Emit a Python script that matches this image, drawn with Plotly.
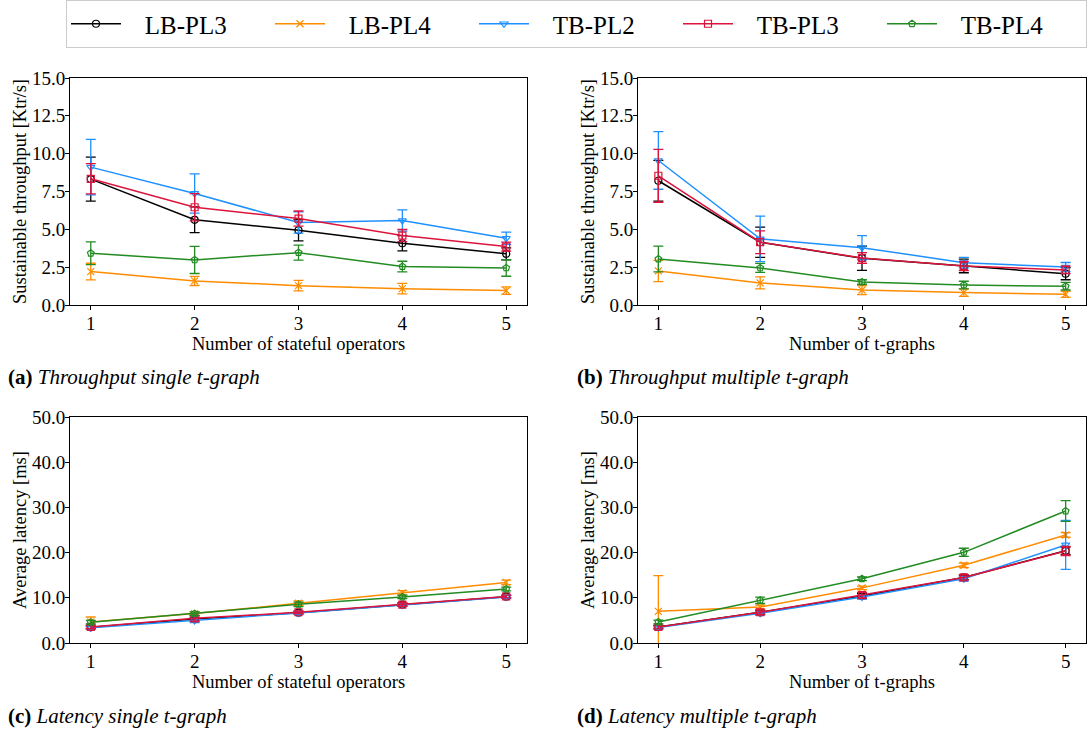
import plotly.graph_objects as go

x_vals = [1, 2, 3, 4, 5]
series = ["LB-PL3", "LB-PL4", "TB-PL2", "TB-PL3", "TB-PL4"]

# (a) Throughput single t-graph  [Ktr/s]
thr_single = {
    "LB-PL3": [8.32, 5.63, 4.94, 4.08, 3.38],
    "LB-PL4": [2.21, 1.59, 1.28, 1.08, 0.95],
    "TB-PL2": [9.11, 7.37, 5.45, 5.58, 4.41],
    "TB-PL3": [8.34, 6.46, 5.71, 4.59, 3.86],
    "TB-PL4": [3.42, 2.98, 3.46, 2.54, 2.45],
}
thr_single_err = {
    "LB-PL3": [1.45, 0.85, 0.70, 0.50, 0.40],
    "LB-PL4": [0.55, 0.30, 0.35, 0.35, 0.25],
    "TB-PL2": [1.83, 1.30, 0.70, 0.70, 0.40],
    "TB-PL3": [1.00, 0.90, 0.50, 0.40, 0.30],
    "TB-PL4": [0.75, 0.90, 0.50, 0.35, 0.55],
}
# (b) Throughput multiple t-graph  [Ktr/s]
thr_multi = {
    "LB-PL3": [8.21, 4.15, 3.09, 2.58, 2.07],
    "LB-PL4": [2.25, 1.46, 0.99, 0.82, 0.71],
    "TB-PL2": [9.55, 4.37, 3.79, 2.80, 2.51],
    "TB-PL3": [8.54, 4.15, 3.11, 2.58, 2.32],
    "TB-PL4": [3.04, 2.45, 1.52, 1.32, 1.24],
}
thr_multi_err = {
    "LB-PL3": [1.35, 1.00, 0.80, 0.45, 0.40],
    "LB-PL4": [0.70, 0.40, 0.30, 0.25, 0.20],
    "TB-PL2": [1.90, 1.50, 0.80, 0.35, 0.30],
    "TB-PL3": [1.75, 0.75, 0.35, 0.30, 0.25],
    "TB-PL4": [0.85, 0.30, 0.15, 0.25, 0.25],
}
# (c) Latency single t-graph  [ms]
lat_single = {
    "LB-PL3": [3.47, 5.30, 6.70, 8.50, 10.25],
    "LB-PL4": [4.65, 6.50, 8.80, 11.10, 13.40],
    "TB-PL2": [3.40, 5.00, 6.65, 8.40, 10.20],
    "TB-PL3": [3.55, 5.45, 6.80, 8.50, 10.30],
    "TB-PL4": [4.60, 6.50, 8.55, 10.20, 11.95],
}
lat_single_err = {
    "LB-PL3": [0.30, 0.40, 0.30, 0.30, 0.30],
    "LB-PL4": [1.10, 0.40, 0.50, 0.50, 0.50],
    "TB-PL2": [0.30, 0.50, 0.30, 0.30, 0.30],
    "TB-PL3": [0.40, 0.60, 0.30, 0.40, 0.30],
    "TB-PL4": [0.40, 0.40, 0.50, 0.40, 0.40],
}
# (d) Latency multiple t-graph  [ms]
lat_multi = {
    "LB-PL3": [3.54, 6.78, 10.40, 14.50, 20.40],
    "LB-PL4": [7.00, 7.96, 12.20, 17.20, 23.90],
    "TB-PL2": [3.40, 6.60, 10.20, 14.20, 21.70],
    "TB-PL3": [3.54, 6.80, 10.60, 14.50, 20.35],
    "TB-PL4": [4.65, 9.44, 14.20, 20.06, 29.20],
}
lat_multi_err = {
    "LB-PL3": [0.30, 0.40, 0.50, 0.50, 0.80],
    "LB-PL4": [7.90, 0.40, 0.40, 0.50, 0.50],
    "TB-PL2": [0.30, 0.40, 0.50, 0.50, 5.40],
    "TB-PL3": [0.40, 0.50, 0.60, 0.60, 1.00],
    "TB-PL4": [0.40, 0.70, 0.40, 0.90, 2.30],
}

colors = {
    "LB-PL3": "#000000",
    "LB-PL4": "#FF8C00",
    "TB-PL2": "#1E90FF",
    "TB-PL3": "#DC143C",
    "TB-PL4": "#228B22",
}
symbols = {
    "LB-PL3": "circle-open",
    "LB-PL4": "x-thin-open",
    "TB-PL2": "triangle-down-open",
    "TB-PL3": "square-open",
    "TB-PL4": "pentagon-open",
}

W, H = 1092, 733
FONT = "Liberation Serif"

panels = [
    (thr_single, thr_single_err, "x", "y", (70, 527), (78, 305),
     "Number of stateful operators", "Sustainable throughput [Ktr/s]", [0, 15], 2.5),
    (thr_multi, thr_multi_err, "x2", "y2", (638, 1086), (78, 305),
     "Number of t-graphs", "Sustainable throughput [Ktr/s]", [0, 15], 2.5),
    (lat_single, lat_single_err, "x3", "y3", (70, 527), (417, 643),
     "Number of stateful operators", "Average latency [ms]", [0, 50], 10),
    (lat_multi, lat_multi_err, "x4", "y4", (638, 1086), (417, 643),
     "Number of t-graphs", "Average latency [ms]", [0, 50], 10),
]

fig = go.Figure()
layout_axes = {}
for i, (data, err, xa, ya, xd, yd, xt, yt, yr, dt) in enumerate(panels):
    for s in series:
        fig.add_trace(go.Scatter(
            x=x_vals, y=data[s], name="\u00a0\u00a0\u00a0" + s, mode="lines+markers",
            xaxis=xa, yaxis=ya, showlegend=(i == 0), legendgroup=s,
            line=dict(color=colors[s], width=1.5),
            marker=dict(symbol=symbols[s], size=7, color=colors[s],
                        line=dict(color=colors[s], width=1.2)),
            error_y=dict(type="data", array=err[s], visible=True,
                         color=colors[s], thickness=1.3, width=5),
            cliponaxis=True,
        ))
    xkey = "xaxis" if xa == "x" else "xaxis" + xa[1:]
    ykey = "yaxis" if ya == "y" else "yaxis" + ya[1:]
    axstyle = dict(showline=True, linecolor="#000000", linewidth=1, mirror=True,
                   ticks="outside", ticklen=4, tickcolor="#000000", tickwidth=1,
                   showgrid=False, zeroline=False,
                   tickfont=dict(family=FONT, size=19, color="#000000"))
    layout_axes[xkey] = dict(
        domain=[xd[0] / W, xd[1] / W], anchor=ya, range=[0.8, 5.2],
        tickvals=x_vals, ticktext=[str(v) for v in x_vals],
        ticklabelstandoff=-3,
        title=dict(text=xt, standoff=2, font=dict(family=FONT, size=18.5, color="#000000")),
        **axstyle)
    layout_axes[ykey] = dict(
        domain=[1 - yd[1] / H, 1 - yd[0] / H], anchor=xa, range=yr,
        dtick=dt, tick0=0, tickformat=".1f",
        ticklabelstandoff=-4,
        title=dict(text=yt, standoff=0, font=dict(family=FONT, size=18.5, color="#000000")),
        **axstyle)

captions = [
    ("(a)", "Throughput single t-graph", 6, 377),
    ("(b)", "Throughput multiple t-graph", 575, 377),
    ("(c)", "Latency single t-graph", 6, 716),
    ("(d)", "Latency multiple t-graph", 575, 716),
]
annotations = []
for tag, txt, px, py in captions:
    annotations.append(dict(
        text=f"<b>{tag}</b> <i>{txt}</i>", xref="paper", yref="paper",
        x=px / W, y=1 - py / H, xanchor="left", yanchor="middle",
        showarrow=False, font=dict(family=FONT, size=21, color="#000000")))

fig.update_layout(
    width=W, height=H,
    margin=dict(l=0, r=0, t=0, b=0, autoexpand=False),
    paper_bgcolor="white", plot_bgcolor="white",
    font=dict(family=FONT, color="#000000"),
    legend=dict(orientation="h", x=66 / W, y=1.0, xanchor="left", yanchor="top",
                bordercolor="#cccccc", borderwidth=1, bgcolor="white",
                font=dict(family=FONT, size=25, color="#000000"),
                entrywidth=139, entrywidthmode="pixels",
                itemwidth=50, tracegroupgap=0),
    annotations=annotations,
    **layout_axes,
)

fig.write_html("out.html",
               config={"displayModeBar": False},
               post_script="document.body.style.margin='0';document.body.style.padding='0';")
